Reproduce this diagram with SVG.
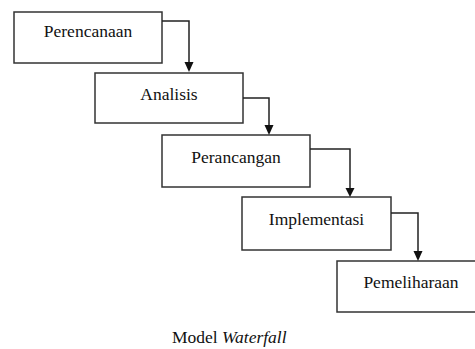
<svg xmlns="http://www.w3.org/2000/svg" width="475" height="349" viewBox="0 0 475 349">
<style>
.box{fill:#fff;stroke:#333;stroke-width:1.5}
.lbl{font-family:"Liberation Serif",serif;font-size:17.5px;fill:#111;text-anchor:middle}
.con{fill:none;stroke:#222;stroke-width:1.5}
.cap{font-family:"Liberation Serif",serif;font-size:17.5px;fill:#111}
</style>
<defs>
<marker id="ah" markerWidth="9" markerHeight="10" refX="4.5" refY="10" orient="auto" markerUnits="userSpaceOnUse" viewBox="0 0 9 10">
<path d="M0,0 L9,0 L4.5,10 Z" fill="#111" transform="rotate(0)"/>
</marker>
</defs>
<rect width="475" height="349" fill="#fff"/>
<g id="n1"><rect class="box" x="14" y="12" width="148" height="51"/><text class="lbl" x="88" y="37">Perencanaan</text></g>
<g id="n2"><rect class="box" x="95" y="73" width="148" height="50"/><text class="lbl" x="169" y="100">Analisis</text></g>
<g id="n3"><rect class="box" x="162" y="135" width="148" height="52"/><text class="lbl" x="236" y="163">Perancangan</text></g>
<g id="n4"><rect class="box" x="242" y="197" width="149" height="53"/><text class="lbl" x="316.5" y="225">Implementasi</text></g>
<g id="n5"><rect class="box" x="337" y="261" width="148" height="51"/><text class="lbl" x="411" y="288">Pemeliharaan</text></g>
<g id="connectors">
<path class="con" d="M162,21 H189 V62"/><path d="M184.5,62 L193.5,62 L189,72 Z" fill="#111"/>
<path class="con" d="M243,98 H269 V125"/><path d="M264.5,125 L273.5,125 L269,135 Z" fill="#111"/>
<path class="con" d="M310,149 H350 V188"/><path d="M345.5,188 L354.5,188 L350,197 Z" fill="#111"/>
<path class="con" d="M391,213 H418 V251"/><path d="M413.5,251 L422.5,251 L418,261 Z" fill="#111"/>
</g>
<text class="cap" x="172" y="343">Model <tspan font-style="italic">Waterfall</tspan></text>
</svg>
